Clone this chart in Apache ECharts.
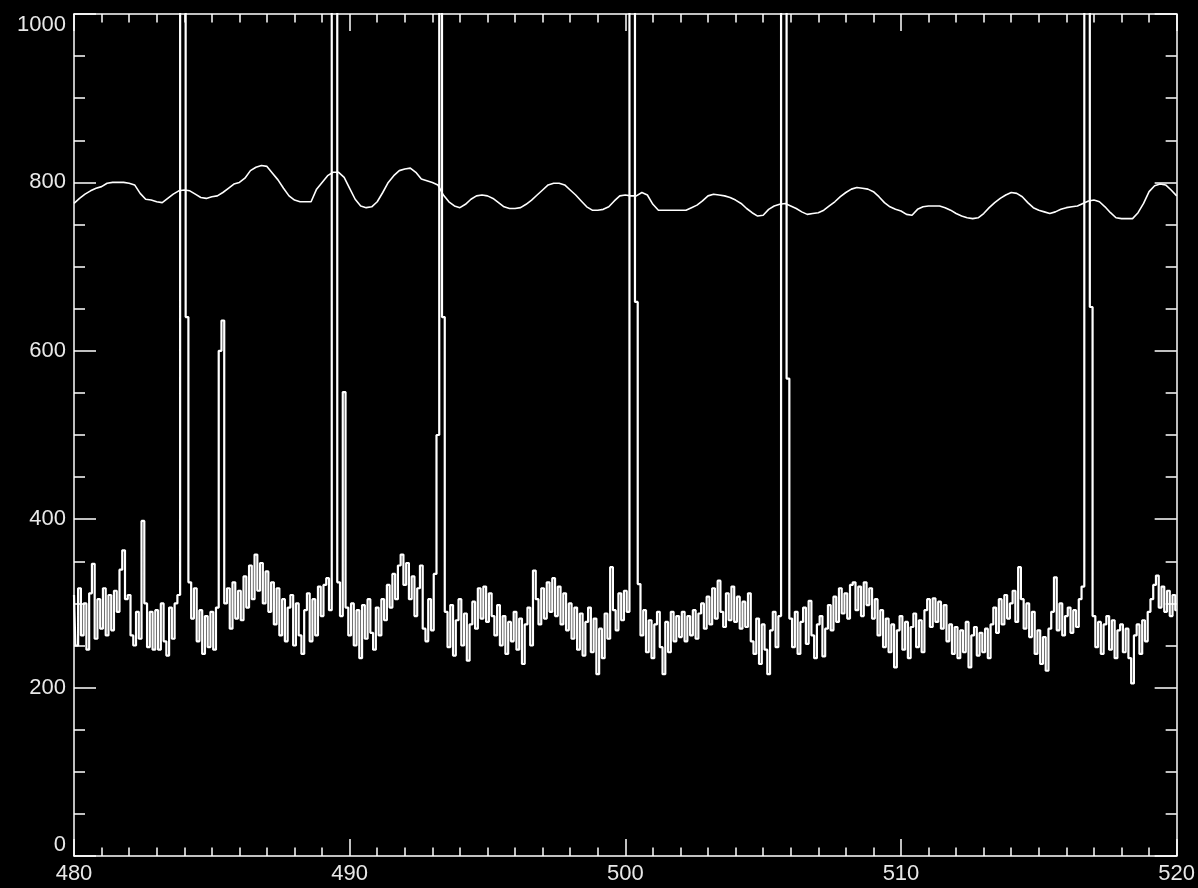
<!DOCTYPE html>
<html><head><meta charset="utf-8">
<script src="https://cdn.jsdelivr.net/npm/echarts@6/dist/echarts.min.js"></script>
<style>html,body{margin:0;padding:0;background:#000;}#c{width:1198px;height:888px;}</style>
</head><body><div id="c"></div>
<script>
// Axis ranges
const xRange = [480, 520];
const xInterval = 10;
const yRange = [0, 1000];
const yInterval = 200;

// Upper (smooth) trace, sampled every 0.2 from 480
const upperStart = 480;
const upperStep = 0.2;
const upperValues = [
  775,781,786,790,793,795,799,800,800,800,
  799,797,787,780,779,777,776,781,786,790,
  791,790,786,782,781,783,784,788,793,798,
  800,805,814,818,820,819,811,803,793,784,
  779,777,777,777,792,800,808,812,812,806,
  793,780,772,770,771,777,788,800,808,814,
  816,817,812,804,802,800,797,785,777,772,
  770,774,780,784,785,784,781,776,771,769,
  769,770,774,779,785,791,797,799,799,797,
  791,785,778,771,767,767,768,771,778,784,
  785,784,784,788,785,774,767,767,767,767,
  767,767,770,773,778,784,786,785,784,782,
  779,775,769,764,760,761,768,772,774,775,
  772,769,765,762,763,764,767,772,777,783,
  788,792,794,793,792,789,783,776,771,768,
  766,762,761,768,771,772,772,772,770,767,
  763,760,758,757,758,763,770,776,781,785,
  788,787,783,776,770,767,765,763,765,768,
  770,771,772,775,778,779,777,771,764,758,
  757,757,757,764,775,789,796,798,797,791,
  784
];

// Lower (noisy) trace, sampled every 0.1 from 480
const lowerStart = 480;
const lowerStep = 0.1;
const lowerValues = [
  310,250,318,262,300,245,312,347,258,305,
  270,318,262,310,268,315,290,340,363,305,
  310,262,250,290,258,398,300,248,290,245,
  292,245,300,255,238,295,258,300,310,1400,
  1400,640,325,282,318,255,292,240,285,248,
  290,245,295,600,636,300,318,270,325,282,
  315,280,332,295,345,305,358,315,348,300,
  338,290,325,275,318,262,305,255,295,310,
  250,300,262,240,292,312,255,305,262,320,
  285,322,330,292,1400,1400,325,285,551,295,
  262,300,250,292,235,298,258,305,265,245,
  295,262,305,280,322,295,335,305,345,358,
  322,348,305,332,285,318,345,270,255,305,
  268,335,500,1400,640,290,248,298,238,280,
  305,250,288,232,275,302,270,318,282,320,
  278,312,285,262,298,250,285,240,278,255,
  290,245,282,228,275,295,250,339,305,275,
  318,282,325,290,330,285,320,275,312,268,
  300,258,295,245,288,238,278,295,242,282,
  216,270,235,288,258,343,292,268,312,280,
  315,290,1400,1400,658,323,262,292,242,280,
  235,275,290,248,216,278,242,290,255,285,
  260,290,255,285,262,292,258,288,300,270,
  308,275,318,282,327,290,272,312,280,320,
  278,308,270,302,272,312,255,240,282,228,
  275,245,216,268,290,248,285,1400,1400,567,
  282,248,290,240,278,295,252,303,262,235,
  275,285,237,270,298,268,308,278,318,288,
  312,282,322,325,292,320,285,325,298,318,
  282,305,262,292,248,282,242,275,224,268,
  285,245,278,235,272,288,248,280,242,292,
  305,272,306,278,302,270,298,255,275,240,
  272,235,268,242,278,224,262,272,238,265,
  242,270,235,275,295,265,305,275,310,282,
  300,315,278,343,305,270,300,260,290,240,
  268,228,260,220,270,290,331,268,300,262,
  285,295,265,292,272,305,320,1400,1400,652,
  285,248,278,240,275,285,245,280,235,268,
  275,242,270,235,205,262,275,240,280,255,
  290,305,322,333,295,320,290,315,285,310,
  292
];

function pairs(start, step, vals) {
  return vals.map((v, i) => [+(start + i * step).toFixed(3), v]);
}

const FG = '#ffffff';
const labelStyle = { color: '#e8e8e8', fontFamily: 'Liberation Sans', fontSize: 22 };
const plainNum = v => String(Math.round(v));

function xAxis(pos, showLabel) {
  return {
    type: 'value', position: pos, min: xRange[0], max: xRange[1], interval: xInterval,
    axisLine: { show: true, onZero: false, lineStyle: { color: FG, width: 1.5 } },
    axisTick: { show: true, inside: true, length: 17, lineStyle: { color: FG, width: 1.5 } },
    minorTick: { show: true, splitNumber: 10, length: 8.5, lineStyle: { color: FG, width: 1.5 } },
    splitLine: { show: false }, minorSplitLine: { show: false },
    axisLabel: Object.assign({ show: showLabel, margin: 7, showMinLabel: true, showMaxLabel: true,
      formatter: plainNum }, labelStyle)
  };
}
function yAxis(pos, showLabel) {
  return {
    type: 'value', position: pos, min: yRange[0], max: yRange[1], interval: yInterval,
    axisLine: { show: true, onZero: false, lineStyle: { color: FG, width: 1.5 } },
    axisTick: { show: true, inside: true, length: 22, lineStyle: { color: FG, width: 1.5 } },
    minorTick: { show: true, splitNumber: 4, length: 11, lineStyle: { color: FG, width: 1.5 } },
    splitLine: { show: false }, minorSplitLine: { show: false },
    axisLabel: Object.assign({ show: showLabel, margin: 8, showMinLabel: true, showMaxLabel: true,
      formatter: plainNum,
      verticalAlignMaxLabel: 'top', verticalAlignMinLabel: 'bottom' }, labelStyle)
  };
}

const chart = echarts.init(document.getElementById('c'), null, { renderer: 'canvas' });
chart.setOption({
  backgroundColor: '#000000',
  animation: false,
  grid: { left: 74, top: 14, width: 1103, height: 842, containLabel: false },
  xAxis: [xAxis('bottom', true), xAxis('top', false)],
  yAxis: [yAxis('left', true), yAxis('right', false)],
  series: [
    {
      type: 'line', xAxisIndex: 0, yAxisIndex: 0,
      data: pairs(upperStart, upperStep, upperValues),
      showSymbol: false, symbol: 'none', clip: true,
      lineStyle: { color: FG, width: 1.6 }
    },
    {
      type: 'line', xAxisIndex: 0, yAxisIndex: 0,
      data: pairs(lowerStart, lowerStep, lowerValues),
      step: 'middle', showSymbol: false, symbol: 'none', clip: true,
      lineStyle: { color: FG, width: 2.2 }
    }
  ]
});
</script>
</body></html>
